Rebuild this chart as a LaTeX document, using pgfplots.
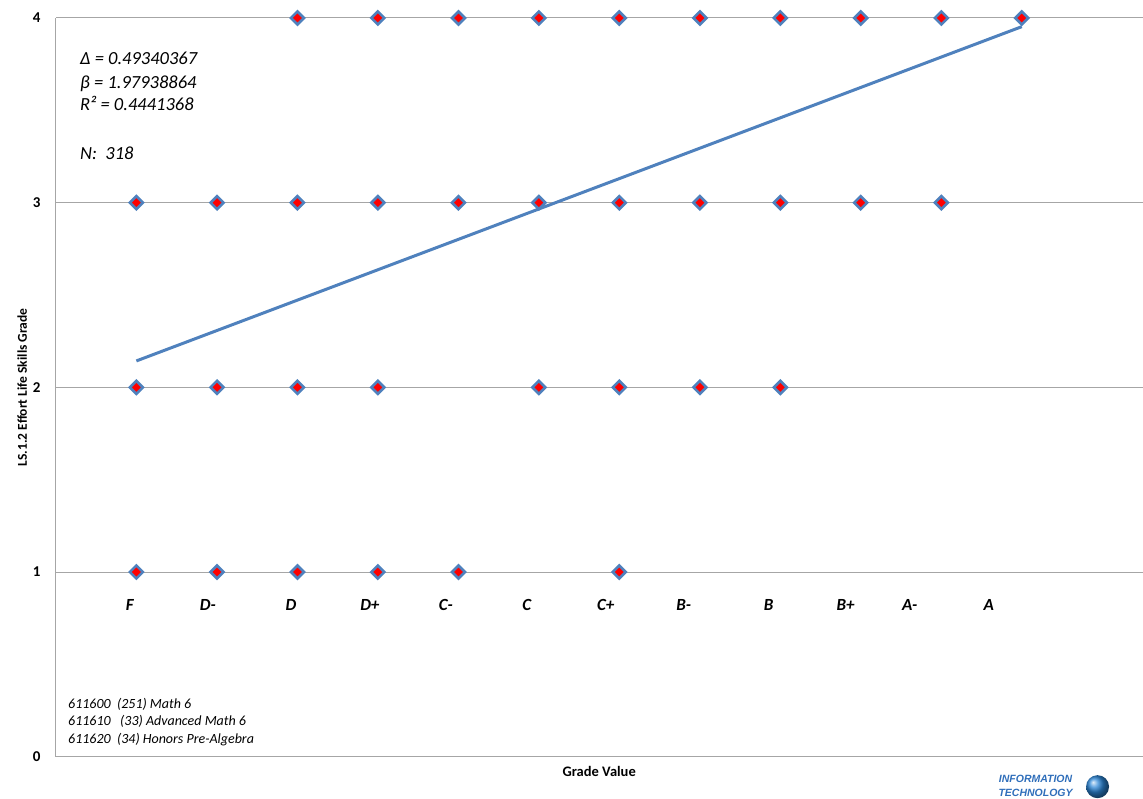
\documentclass[border=0pt]{standalone}
\usepackage{fontspec}
\setmainfont{Carlito}
\newfontfamily\logofont{Liberation Sans}
\usepackage{pgfplots}
\pgfplotsset{compat=1.18}
\definecolor{markblue}{HTML}{4F81BD}
\definecolor{gridgray}{HTML}{A6A6A6}
\definecolor{logoblue}{HTML}{2F6EBA}
\definecolor{globeblue}{HTML}{2C86D6}
\tikzset{gl/.style={font=\fontsize{17}{19}\selectfont\bfseries\itshape}}
\begin{document}
\begin{tikzpicture}
\begin{axis}[
  scale only axis, width=1087pt, height=739pt,
  xmin=0, xmax=4.5, ymin=0, ymax=4,
  axis x line=bottom, axis y line=left,
  axis line style={gridgray, line width=1pt, -},
  xtick=\empty, ytick={0,1,2,3,4},
  ymajorgrids, grid style={gridgray, line width=1pt},
  major tick length=0pt,
  /pgf/number format/assume math mode=true,
  yticklabel style={font=\fontsize{15}{17}\selectfont\bfseries, xshift=-12pt},
  ylabel={LS.1.2 Effort Life Skills Grade},
  ylabel style={at={(axis description cs:-0.031,0.5)}, anchor=center, font=\fontsize{13.5}{15}\selectfont\bfseries},
  xlabel={Grade Value},
  xlabel style={at={(axis description cs:0.5,-0.0203)}, anchor=center, font=\fontsize{14.5}{16}\selectfont\bfseries},
  clip=false,
]
% regression line
\addplot[markblue, line width=3pt, no marks] coordinates {(0.333,2.143) (4,3.953)};
% data points
\addplot[only marks, mark=square*, mark size=4.6pt,
  mark options={rotate=45, fill=red, draw=markblue, line width=2.6pt}] table {
x y
1.000 4
1.333 4
1.667 4
2.000 4
2.333 4
2.667 4
3.000 4
3.333 4
3.667 4
4.000 4
0.333 3
0.667 3
1.000 3
1.333 3
1.667 3
2.000 3
2.333 3
2.667 3
3.000 3
3.333 3
3.667 3
0.333 2
0.667 2
1.000 2
1.333 2
2.000 2
2.333 2
2.667 2
3.000 2
0.333 1
0.667 1
1.000 1
1.333 1
1.667 1
2.333 1
};
% grade labels
\node[gl] at (axis cs:0.306,0.823) {F};
\node[gl] at (axis cs:0.629,0.823) {D-};
\node[gl] at (axis cs:0.973,0.823) {D};
\node[gl] at (axis cs:1.300,0.823) {D+};
\node[gl] at (axis cs:1.615,0.823) {C-};
\node[gl] at (axis cs:1.950,0.823) {C};
\node[gl] at (axis cs:2.277,0.823) {C+};
\node[gl] at (axis cs:2.600,0.823) {B-};
\node[gl] at (axis cs:2.952,0.823) {B};
\node[gl] at (axis cs:3.270,0.823) {B+};
\node[gl] at (axis cs:3.536,0.823) {A-};
\node[gl] at (axis cs:3.863,0.823) {A};
\end{axis}
% statistics text
\begin{scope}[every node/.style={anchor=base west, inner sep=0pt, font=\fontsize{18.5}{22}\selectfont\itshape}]
\node at (24pt,692pt) {Δ = 0.49340367};
\node at (24pt,668pt) {β = 1.97938864};
\node at (24pt,646pt) {R² = 0.4441368};
\node at (24pt,597pt) {N:\ \ 318};
\end{scope}
\begin{scope}[every node/.style={anchor=base west, inner sep=0pt, font=\fontsize{14}{16}\selectfont\itshape}]
\node at (12pt,48pt) {611600\ \ (251) Math 6};
\node at (12pt,31pt) {611610\ \ \ (33) Advanced Math 6};
\node at (12pt,13pt) {611620\ \ (34) Honors Pre-Algebra};
\end{scope}
% logo
\node[text=logoblue, font=\logofont\fontsize{10.5}{12}\selectfont\bfseries\itshape, inner sep=0pt] at (980pt,-22pt) {INFORMATION};
\node[text=logoblue, font=\logofont\fontsize{10.5}{12}\selectfont\bfseries\itshape, inner sep=0pt] at (980pt,-36pt) {TECHNOLOGY};
\shade[ball color=globeblue] (1042pt,-30pt) circle (11.5pt);
\path[use as bounding box] (-56pt,-42pt) rectangle (1087pt,757pt);
\end{tikzpicture}
\end{document}
